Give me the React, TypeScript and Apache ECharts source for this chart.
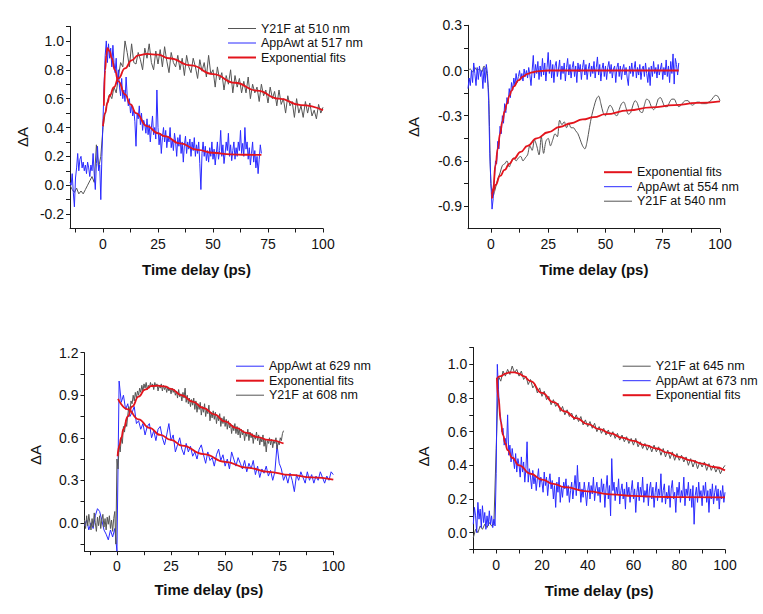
import React, { useEffect, useRef } from "react";
import * as echarts from "echarts";

const FONT = "'Liberation Sans', Arial, Helvetica, sans-serif";
const GRAY = "#555555";
const BLUE = "#2a2aff";
const RED = "#e3141c";
const fitName = "Exponential fits";

// ---------------- Panel A (top-left) ----------------
const aGrayName = "Y21F at 510 nm";
const aBlueName = "AppAwt at 517 nm";
const aGrayStart = -15;
const aGrayStep = 1;
const aGray = [
  0.0, -0.03, -0.05, -0.02, -0.06, -0.04, -0.06, -0.03, 0.0, 0.03,
  0.06, 0.02, 0.28, 0.12, 0.2, 0.4, 0.5, 0.58, 0.63, 0.6,
  0.68, 0.64, 0.75, 0.85, 0.82, 1.0, 0.92, 0.82, 0.98, 0.85,
  0.84, 0.92, 0.87, 0.8, 0.95, 0.88, 0.98, 0.85, 0.8, 0.93,
  0.84, 0.94, 0.82, 0.96, 0.86, 0.78, 0.92, 0.85, 0.82, 0.9,
  0.8, 0.88, 0.76, 0.9, 0.82, 0.78, 0.88, 0.82, 0.74, 0.87,
  0.79, 0.85, 0.75, 0.9, 0.77, 0.8, 0.68, 0.82, 0.73, 0.78,
  0.66, 0.76, 0.7, 0.8, 0.64, 0.76, 0.68, 0.74, 0.64, 0.72,
  0.64, 0.75, 0.6, 0.7, 0.64, 0.68, 0.58, 0.7, 0.62, 0.66,
  0.57, 0.68, 0.6, 0.65, 0.55, 0.66, 0.56, 0.6, 0.5, 0.62,
  0.55, 0.58, 0.47, 0.6, 0.5, 0.55, 0.47, 0.58, 0.5, 0.57,
  0.48, 0.52, 0.46, 0.56, 0.5, 0.54,
];
const aBlueStart = -15;
const aBlueStep = 0.5;
const aBlue = [
  0.02, 0.0, 0.08, -0.05, -0.15, 0.05, 0.12, 0.22, 0.1, 0.18,
  0.2, 0.12, 0.16, 0.1, 0.14, 0.08, 0.16, 0.12, 0.06, 0.14,
  0.1, 0.22, 0.08, -0.03, 0.15, 0.27, 0.1, 0.14, -0.1, 0.2,
  0.45, 0.7, 0.9, 1.0, 0.85, 0.98, 0.88, 0.95, 0.82, 0.97,
  0.85, 0.78, 0.88, 0.7, 0.8, 0.68, 0.62, 0.74, 0.6, 0.66,
  0.58, 0.75, 0.62, 0.55, 0.6, 0.5, 0.56, 0.48, 0.52, 0.44,
  0.27, 0.5, 0.46, 0.55, 0.42, 0.5, 0.38, 0.45, 0.42, 0.36,
  0.46, 0.35, 0.42, 0.3, 0.4, 0.48, 0.35, 0.4, 0.32, 0.66,
  0.4, 0.28, 0.36, 0.22, 0.33, 0.4, 0.3, 0.38, 0.26, 0.34,
  0.3, 0.4, 0.26, 0.32, 0.24, 0.36, 0.3, 0.2, 0.33, 0.27,
  0.35, 0.22, 0.3, 0.16, 0.28, 0.34, 0.22, 0.3, 0.25, 0.32,
  0.2, 0.3, 0.24, 0.33, 0.2, 0.28, 0.22, 0.3, 0.15, -0.03,
  0.22, 0.3, 0.2, 0.27, 0.17, 0.24, 0.16, 0.26, 0.2, 0.3,
  0.18, 0.25, 0.14, 0.22, 0.3, 0.18, 0.24, 0.38, 0.2, 0.28,
  0.15, 0.22, 0.3, 0.24, 0.36, 0.2, 0.28, 0.17, 0.24, 0.3,
  0.18, 0.26, 0.2, 0.3, 0.24, 0.38, 0.22, 0.29, 0.2, 0.4,
  0.25, 0.3, 0.18, 0.26, 0.14, 0.22, 0.3, 0.16, 0.24, 0.12,
  0.2, 0.08, 0.18, 0.28, 0.22,
];
const aGrayFit = [
  [0, 0.41], [1, 0.5], [2, 0.57], [3, 0.62], [5, 0.68], [7, 0.74], [10, 0.81],
  [13, 0.865], [16, 0.9], [20, 0.91], [25, 0.905], [30, 0.88], [40, 0.83],
  [50, 0.77], [60, 0.71], [70, 0.655], [80, 0.6], [90, 0.555], [100, 0.52],
];
const aBlueFit = [
  [0.4, 0.55], [1, 0.8], [1.5, 0.9], [2, 0.95], [3, 0.93], [4, 0.88], [5.3, 0.8],
  [7, 0.72], [10, 0.63], [12.5, 0.56], [15, 0.5], [20, 0.41], [25, 0.36],
  [28, 0.34], [35, 0.29], [43, 0.245], [50, 0.225], [58, 0.214], [65, 0.211], [72, 0.21],
];
const aXTicks = [-12.5, 0, 12.5, 25, 37.5, 50, 62.5, 75, 87.5, 100];
const aXLabels = [0, 25, 50, 75, 100];
const aYTicks = [-0.2, -0.1, 0, 0.1, 0.2, 0.3, 0.4, 0.5, 0.6, 0.7, 0.8, 0.9, 1.0, 1.1];
const aYLabels = [-0.2, 0, 0.2, 0.4, 0.6, 0.8, 1.0];

// ---------------- Panel B (top-right) ----------------
const bGrayName = "Y21F at 540 nm";
const bBlueName = "AppAwt at 554 nm";
const bGrayStart = -10;
const bGrayStep = 1;
const bGray = [
  0.0, 0.01, -0.01, 0.02, 0.0, 0.01, -0.01, 0.03, 0.0, -0.15,
  -0.75, -0.83, -0.78, -0.72, -0.68, -0.63, -0.62, -0.6, -0.64, -0.6,
  -0.58, -0.6, -0.58, -0.57, -0.6, -0.58, -0.56, -0.5, -0.53, -0.46,
  -0.5, -0.56, -0.44, -0.55, -0.47, -0.45, -0.5, -0.46, -0.42, -0.44,
  -0.33, -0.36, -0.34, -0.38, -0.35, -0.38, -0.38, -0.4, -0.42, -0.46,
  -0.5, -0.52, -0.47, -0.38, -0.3, -0.24, -0.19, -0.17, -0.22, -0.28,
  -0.3, -0.26, -0.23, -0.25, -0.29, -0.3, -0.26, -0.22, -0.21, -0.25,
  -0.29, -0.28, -0.23, -0.2, -0.22, -0.27, -0.28, -0.23, -0.19, -0.2,
  -0.24, -0.26, -0.24, -0.19, -0.18, -0.21, -0.24, -0.24, -0.21, -0.19,
  -0.19, -0.22, -0.24, -0.23, -0.21, -0.2, -0.2, -0.22, -0.23, -0.22,
  -0.21, -0.21, -0.22, -0.22, -0.22, -0.21, -0.2, -0.18, -0.165, -0.17,
  -0.2,
];
const bBlueStart = -10;
const bBlueStep = 0.5;
const bBlue = [
  -0.12, -0.05, -0.1, 0.0, -0.08, 0.05, -0.02, -0.1, 0.02, -0.06,
  0.03, -0.04, 0.0, -0.12, 0.02, -0.08, 0.04, -0.02, -0.2, -0.55,
  -0.75, -0.92, -0.85, -0.72, -0.6, -0.62, -0.47, -0.52, -0.37, -0.42,
  -0.3, -0.35, -0.22, -0.28, -0.18, -0.22, -0.12, -0.18, -0.08, -0.13,
  -0.05, -0.1, -0.02, -0.08, -0.04, 0.0, -0.06, -0.02, -0.07, 0.01,
  -0.04, 0.0, -0.05, 0.02, -0.03, -0.1, 0.0, 0.1, -0.05, 0.04,
  -0.02, 0.06, -0.06, 0.03, -0.04, 0.08, -0.03, 0.05, -0.07, 0.02,
  0.12, -0.02, 0.07, -0.05, 0.04, -0.08, 0.03, 0.06, -0.04, 0.01,
  0.07, -0.06, 0.03, -0.02, 0.05, -0.07, 0.02, 0.08, -0.03, 0.04,
  -0.05, 0.02, 0.06, -0.04, 0.03, -0.08, 0.05, -0.01, 0.04, -0.06,
  0.02, 0.07, -0.03, 0.04, -0.06, 0.01, 0.05, -0.04, 0.03, -0.02,
  0.06, -0.05, 0.02, 0.09, -0.03, 0.04, -0.07, 0.01, 0.05, -0.04,
  0.03, -0.06, 0.02, 0.06, -0.02, 0.04, -0.05, 0.01, 0.03, -0.08,
  0.02, 0.05, -0.04, 0.03, -0.06, 0.01, 0.04, -0.03, 0.02, -0.05,
  -0.1, 0.03, -0.02, 0.05, -0.04, 0.01, 0.06, -0.05, 0.02, -0.03,
  0.04, -0.06, 0.01, 0.03, -0.04, 0.05, -0.02, -0.08, 0.02, -0.1,
  0.03, -0.04, 0.06, -0.02, 0.02, -0.05, 0.04, -0.03, 0.01, 0.05,
  -0.06, 0.02, -0.03, 0.07, -0.04, 0.03, -0.08, 0.06, -0.02, 0.11,
  -0.09, 0.08, 0.04, -0.03, 0.05,
];
const bBlueFit = [
  [0.5, -0.85], [1, -0.78], [2, -0.63], [3, -0.52], [4, -0.42], [5, -0.34],
  [6, -0.27], [7, -0.22], [8, -0.17], [9, -0.135], [10, -0.105], [12, -0.065],
  [14, -0.04], [16, -0.022], [18, -0.012], [20, -0.006], [25, 0], [82, 0],
];
const bGrayFit = [
  [0.5, -0.82], [1, -0.8], [2, -0.76], [4, -0.7], [6, -0.66], [8, -0.62],
  [10, -0.585], [13, -0.54], [16, -0.5], [20, -0.45], [25, -0.41], [30, -0.375],
  [35, -0.35], [40, -0.325], [45, -0.31], [50, -0.29], [60, -0.265], [70, -0.245],
  [80, -0.23], [90, -0.215], [100, -0.205],
];
const bXTicks = [0, 12.5, 25, 37.5, 50, 62.5, 75, 87.5, 100];
const bXLabels = [0, 25, 50, 75, 100];
const bYTicks = [-0.9, -0.75, -0.6, -0.45, -0.3, -0.15, 0, 0.15, 0.3];
const bYLabels = [-0.9, -0.6, -0.3, 0, 0.3];

// ---------------- Panel C (bottom-left) ----------------
const cGrayName = "Y21F at 608 nm";
const cBlueName = "AppAwt at 629 nm";
const cGrayStart = -15;
const cGrayStep = 0.5;
const cGray = [
  0.02, -0.04, 0.05, -0.02, 0.06, 0.0, -0.05, 0.03, -0.03, 0.07,
  0.0, -0.06, 0.04, -0.02, 0.05, -0.04, 0.02, 0.06, -0.03, 0.03,
  -0.05, 0.04, -0.01, 0.05, -0.04, 0.02, -0.06, 0.03, 0.08, -0.15,
  0.45, 0.38, 0.55, 0.5, 0.6, 0.56, 0.68, 0.64, 0.72, 0.68,
  0.76, 0.82, 0.78, 0.86, 0.84, 0.9, 0.86, 0.92, 0.88, 0.93,
  0.9, 0.95, 0.92, 0.97, 0.93, 0.98, 0.95, 0.99, 0.94, 0.97,
  0.95, 0.99, 0.96, 0.98, 0.94, 0.99, 0.96, 0.98, 0.93, 0.97,
  0.95, 0.98, 0.93, 0.97, 0.94, 0.96, 0.92, 0.96, 0.93, 0.95,
  0.91, 0.95, 0.92, 0.94, 0.9, 0.93, 0.88, 0.94, 0.89, 0.91,
  0.86, 0.92, 0.88, 0.95, 0.85, 0.9, 0.84, 0.88, 0.82, 0.87,
  0.83, 0.88, 0.8, 0.86, 0.78, 0.84, 0.8, 0.85, 0.76, 0.82,
  0.78, 0.84, 0.75, 0.8, 0.77, 0.83, 0.72, 0.78, 0.74, 0.79,
  0.73, 0.78, 0.7, 0.76, 0.72, 0.77, 0.68, 0.74, 0.7, 0.75,
  0.68, 0.73, 0.66, 0.72, 0.67, 0.7, 0.63, 0.69, 0.65, 0.7,
  0.63, 0.68, 0.62, 0.67, 0.6, 0.66, 0.62, 0.65, 0.58, 0.64,
  0.61, 0.66, 0.58, 0.64, 0.6, 0.63, 0.56, 0.62, 0.59, 0.64,
  0.58, 0.62, 0.55, 0.6, 0.57, 0.62, 0.54, 0.59, 0.5, 0.58,
  0.56, 0.6, 0.55, 0.59, 0.53, 0.58, 0.56, 0.6, 0.52, 0.57,
  0.55, 0.6, 0.58, 0.63, 0.65,
];
const cBlueStart = -15;
const cBlueStep = 1;
const cBlue = [
  -0.02, 0.02, -0.05, 0.0, -0.04, 0.05, 0.1, 0.08, 0.02, -0.05,
  -0.08, -0.12, -0.05, -0.1, -0.04, -0.2, 1.0, 0.85, 0.9, 0.8,
  0.84, 0.75, 0.78, 0.82, 0.7, 0.72, 0.66, 0.7, 0.62, 0.68,
  0.7, 0.6, 0.65, 0.58, 0.66, 0.68, 0.6, 0.55, 0.62, 0.7,
  0.58, 0.62, 0.5, 0.55, 0.6, 0.52, 0.48, 0.56, 0.5, 0.54,
  0.47, 0.5, 0.45, 0.52, 0.55, 0.48, 0.42, 0.5, 0.44, 0.46,
  0.4, 0.48, 0.52, 0.44, 0.48, 0.4, 0.45, 0.38, 0.5, 0.45,
  0.4, 0.46, 0.42, 0.38, 0.44, 0.36, 0.42, 0.38, 0.44, 0.34,
  0.4, 0.32, 0.38, 0.35, 0.4, 0.33, 0.37, 0.3, 0.36, 0.55,
  0.42, 0.38, 0.3, 0.34, 0.28, 0.35, 0.3, 0.22, 0.34, 0.3,
  0.36, 0.32, 0.28, 0.36, 0.3, 0.34, 0.28, 0.33, 0.3, 0.36,
  0.32, 0.28, 0.33, 0.3, 0.36, 0.34,
];
const cBlueFit = [
  [0.5, 0.875], [5, 0.8], [10, 0.73], [15, 0.67], [20, 0.62], [25, 0.585],
  [30, 0.545], [40, 0.485], [50, 0.43], [60, 0.39], [70, 0.36], [80, 0.338],
  [90, 0.32], [100, 0.305],
];
const cGrayFit = [
  [0.3, 0.47], [1, 0.54], [2, 0.6], [3, 0.66], [5, 0.75], [7, 0.82], [10, 0.89],
  [13, 0.94], [16, 0.965], [19, 0.968], [22, 0.962], [25, 0.945], [30, 0.9],
  [35, 0.855], [40, 0.81], [45, 0.765], [50, 0.715], [55, 0.67], [60, 0.635],
  [65, 0.605], [70, 0.585], [77, 0.56],
];
const cXTicks = [-12.5, 0, 12.5, 25, 37.5, 50, 62.5, 75, 87.5, 100];
const cXLabels = [0, 25, 50, 75, 100];
const cYTicks = [-0.15, 0, 0.15, 0.3, 0.45, 0.6, 0.75, 0.9, 1.05, 1.2];
const cYLabels = [0, 0.3, 0.6, 0.9, 1.2];

// ---------------- Panel D (bottom-right) ----------------
const dGrayName = "Y21F at 645 nm";
const dBlueName = "AppAwt at 673 nm";
const dGrayStart = -10;
const dGrayStep = 1;
const dGray = [
  -0.03, 0.02, 0.0, 0.04, 0.02, 0.05, 0.03, 0.06, 0.04, 0.05,
  0.5, 0.93, 0.9, 0.96, 0.93, 0.97, 0.94, 0.99, 0.95, 0.97,
  0.93, 0.96, 0.91, 0.93, 0.88, 0.91, 0.86, 0.88, 0.83, 0.86,
  0.81, 0.84, 0.79, 0.81, 0.76, 0.79, 0.75, 0.77, 0.72, 0.75,
  0.7, 0.73, 0.69, 0.71, 0.67, 0.7, 0.66, 0.69, 0.64, 0.67,
  0.63, 0.66, 0.62, 0.65, 0.6, 0.63, 0.59, 0.62, 0.58, 0.61,
  0.57, 0.6, 0.56, 0.59, 0.55, 0.58, 0.54, 0.57, 0.53, 0.56,
  0.52, 0.56, 0.51, 0.54, 0.5, 0.53, 0.49, 0.52, 0.48, 0.52,
  0.48, 0.51, 0.46, 0.5, 0.45, 0.49, 0.44, 0.48, 0.43, 0.47,
  0.43, 0.46, 0.42, 0.45, 0.4, 0.44, 0.39, 0.43, 0.38, 0.42,
  0.39, 0.42, 0.37, 0.41, 0.37, 0.4, 0.36, 0.39, 0.35, 0.38,
  0.4,
];
const dBlueStart = -10;
const dBlueStep = 0.5;
const dBlue = [
  0.05, 0.15, 0.1, 0.0, 0.18, 0.08, 0.14, 0.03, 0.16, 0.06,
  0.12, 0.02, 0.1, 0.04, 0.13, 0.05, 0.1, 0.03, 0.08, 0.04,
  0.35, 1.0, 0.85, 0.72, 0.68, 0.6, 0.62, 0.52, 0.56, 0.5,
  0.7, 0.46, 0.52, 0.42, 0.5, 0.44, 0.38, 0.47, 0.36, 0.44,
  0.4, 0.33, 0.45, 0.36, 0.42, 0.3, 0.38, 0.54, 0.3, 0.38,
  0.33, 0.26, 0.37, 0.29, 0.34, 0.25, 0.32, 0.38, 0.27, 0.33,
  0.3, 0.24, 0.36, 0.28, 0.33, 0.22, 0.3, 0.35, 0.26, 0.31,
  0.2, 0.28, 0.15, 0.3, 0.24, 0.33, 0.18, 0.27, 0.21, 0.3,
  0.26, 0.32, 0.22, 0.28, 0.18, 0.25, 0.3, 0.2, 0.27, 0.34,
  0.22, 0.4, 0.25, 0.3, 0.18, 0.26, 0.21, 0.3, 0.24, 0.16,
  0.25, 0.3, 0.2, 0.28, 0.23, 0.33, 0.19, 0.26, 0.3, 0.22,
  0.27, 0.18, 0.32, 0.24, 0.29, 0.15, 0.26, 0.34, 0.2, 0.28,
  0.1, 0.44, 0.25, 0.3, 0.19, 0.27, 0.23, 0.32, 0.17, 0.25,
  0.29, 0.2, 0.26, 0.14, 0.3, 0.22, 0.27, 0.18, 0.25, 0.31,
  0.2, 0.26, 0.12, 0.24, 0.3, 0.19, 0.27, 0.22, 0.33, 0.18,
  0.25, 0.21, 0.29, 0.16, 0.26, 0.3, 0.2, 0.27, 0.15, 0.24,
  0.3, 0.19, 0.26, 0.22, 0.35, 0.18, 0.25, 0.29, 0.17, 0.24,
  0.2, 0.28, 0.15, 0.26, 0.31, 0.2, 0.24, 0.12, 0.27, 0.22,
  0.3, 0.18, 0.25, 0.21, 0.33, 0.16, 0.26, 0.22, 0.3, 0.19,
  0.26, 0.15, 0.28, 0.05, 0.22, 0.27, 0.18, 0.3, 0.21, 0.25,
  0.16, 0.28, 0.22, 0.3, 0.18, 0.25, 0.12, 0.26, 0.2, 0.29,
  0.17, 0.24, 0.28, 0.19, 0.26, 0.14, 0.25, 0.2, 0.28, 0.18,
  0.24,
];
const dBlueFit = [
  [0.3, 0.92], [1, 0.8], [2, 0.66], [3, 0.58], [4, 0.53], [5, 0.49], [7, 0.445],
  [10, 0.4], [15, 0.35], [20, 0.315], [25, 0.29], [30, 0.27], [40, 0.245],
  [50, 0.228], [60, 0.218], [70, 0.213], [80, 0.211], [100, 0.21],
];
const dGrayFit = [
  [0.5, 0.92], [2, 0.93], [4, 0.945], [6, 0.952], [8, 0.952], [10, 0.945],
  [12, 0.93], [15, 0.9], [20, 0.83], [25, 0.775], [30, 0.72], [35, 0.68],
  [40, 0.645], [45, 0.615], [50, 0.59], [55, 0.565], [60, 0.545], [65, 0.52],
  [70, 0.5], [75, 0.475], [80, 0.45], [85, 0.43], [90, 0.41], [95, 0.39], [100, 0.37],
];
const dXTicks = [-10, 0, 10, 20, 30, 40, 50, 60, 70, 80, 90, 100];
const dXLabels = [0, 20, 40, 60, 80, 100];
const dYTicks = [-0.1, 0, 0.1, 0.2, 0.3, 0.4, 0.5, 0.6, 0.7, 0.8, 0.9, 1.0, 1.1];
const dYLabels = [0, 0.2, 0.4, 0.6, 0.8, 1.0];

// ---------------- helpers ----------------
function sampled(start: number, step: number, values: number[]) {
  return values.map((v, i) => [Math.round((start + i * step) * 100) / 100, v]);
}

const AXIS_COLOR = "#1a1a1a";
const TEXT_COLOR = "#111111";

function xAxisFor(idx: number, min: number, max: number, ticks: number[], labels: number[], nameGap: number) {
  return {
    type: "value",
    gridIndex: idx,
    min,
    max,
    axisLine: { onZero: false, lineStyle: { color: AXIS_COLOR, width: 1 } },
    axisTick: { length: 4, customValues: ticks, lineStyle: { color: AXIS_COLOR, width: 1 } },
    axisLabel: {
      customValues: labels,
      margin: 8,
      color: TEXT_COLOR,
      fontSize: 14,
      fontFamily: FONT,
      formatter: (v: number) => String(v),
    },
    splitLine: { show: false },
    name: "Time delay (ps)",
    nameLocation: "middle",
    nameGap,
    nameTextStyle: { fontSize: 15, fontWeight: "bold", color: TEXT_COLOR, fontFamily: FONT },
  };
}

function yAxisFor(idx: number, min: number, max: number, ticks: number[], labels: number[], nameGap: number, shift: number) {
  return {
    type: "value",
    gridIndex: idx,
    min,
    max,
    axisLine: { onZero: false, lineStyle: { color: AXIS_COLOR, width: 1 } },
    axisTick: { length: 4, customValues: ticks, lineStyle: { color: AXIS_COLOR, width: 1 } },
    axisLabel: {
      customValues: labels,
      margin: 6,
      color: TEXT_COLOR,
      fontSize: 14,
      fontFamily: FONT,
      formatter: (v: number) => v.toFixed(1),
    },
    splitLine: { show: false },
    name: "ΔA",
    nameLocation: "middle",
    nameGap,
    nameTextStyle: { fontSize: 15, color: TEXT_COLOR, fontFamily: FONT, padding: [0, shift, 0, 0] },
  };
}

function dataLine(name: string, color: string, idx: number, data: number[][], smooth: number | boolean = false) {
  return {
    type: "line",
    name,
    xAxisIndex: idx,
    yAxisIndex: idx,
    data,
    symbol: "none",
    smooth,
    lineStyle: { color, width: 1 },
    itemStyle: { color },
    silent: true,
    z: 2,
  };
}

function fitLine(idx: number, data: number[][]) {
  return {
    type: "line",
    name: fitName,
    xAxisIndex: idx,
    yAxisIndex: idx,
    data,
    symbol: "none",
    smooth: 0.5,
    smoothMonotone: "x",
    lineStyle: { color: RED, width: 1.8 },
    itemStyle: { color: RED },
    silent: true,
    z: 4,
  };
}

function legendFor(names: string[], left: number, top: number) {
  return {
    orient: "vertical",
    left,
    top,
    padding: 0,
    itemGap: 1.5,
    itemWidth: 28,
    itemHeight: 14,
    selectedMode: false,
    data: names.map((n) => ({
      name: n,
      itemStyle: { opacity: 0 },
      lineStyle: { width: n === fitName ? 2 : 1 },
    })),
    textStyle: { fontFamily: FONT, fontSize: 12.5, color: TEXT_COLOR },
  };
}

export default function App() {
  const ref = useRef<HTMLDivElement>(null);

  useEffect(() => {
    if (!ref.current) return;
    const chart = echarts.init(ref.current, undefined, { renderer: "svg" });
    const option = {
      animation: false,
      backgroundColor: "#ffffff",
      grid: [
        { left: 70, top: 26.5, width: 253, height: 202 },
        { left: 468, top: 25.3, width: 252, height: 203.4 },
        { left: 84.5, top: 352.7, width: 248.8, height: 198.5 },
        { left: 473.3, top: 347.5, width: 251.7, height: 202 },
      ],
      xAxis: [
        xAxisFor(0, -15, 100, aXTicks, aXLabels, 33),
        xAxisFor(1, -10, 100, bXTicks, bXLabels, 33.5),
        xAxisFor(2, -15, 100, cXTicks, cXLabels, 31),
        xAxisFor(3, -10, 100, dXTicks, dXLabels, 33),
      ],
      yAxis: [
        yAxisFor(0, -0.3, 1.1, aYTicks, aYLabels, 40, 19),
        yAxisFor(1, -1.05, 0.3, bYTicks, bYLabels, 47, 0),
        yAxisFor(2, -0.2, 1.2, cYTicks, cYLabels, 42, 6),
        yAxisFor(3, -0.1, 1.1, dYTicks, dYLabels, 42, 16),
      ],
      legend: [
        legendFor([aGrayName, aBlueName, fitName], 227, 22),
        legendFor([fitName, bBlueName, bGrayName], 603, 165.7),
        legendFor([cBlueName, fitName, cGrayName], 235, 359.7),
        legendFor([dGrayName, dBlueName, fitName], 621.7, 359.7),
      ],
      series: [
        dataLine(aGrayName, GRAY, 0, sampled(aGrayStart, aGrayStep, aGray)),
        dataLine(aBlueName, BLUE, 0, sampled(aBlueStart, aBlueStep, aBlue)),
        fitLine(0, aGrayFit),
        fitLine(0, aBlueFit),

        dataLine(bGrayName, GRAY, 1, sampled(bGrayStart, bGrayStep, bGray), 0.3),
        dataLine(bBlueName, BLUE, 1, sampled(bBlueStart, bBlueStep, bBlue)),
        fitLine(1, bGrayFit),
        fitLine(1, bBlueFit),

        dataLine(cBlueName, BLUE, 2, sampled(cBlueStart, cBlueStep, cBlue)),
        dataLine(cGrayName, GRAY, 2, sampled(cGrayStart, cGrayStep, cGray)),
        fitLine(2, cGrayFit),
        fitLine(2, cBlueFit),

        dataLine(dGrayName, GRAY, 3, sampled(dGrayStart, dGrayStep, dGray)),
        dataLine(dBlueName, BLUE, 3, sampled(dBlueStart, dBlueStep, dBlue)),
        fitLine(3, dGrayFit),
        fitLine(3, dBlueFit),
      ],
    };
    chart.setOption(option as any);
    return () => chart.dispose();
  }, []);

  return (
    <div
      ref={ref}
      style={{ position: "fixed", left: 0, top: 0, width: 763, height: 614, background: "#fff" }}
    />
  );
}
